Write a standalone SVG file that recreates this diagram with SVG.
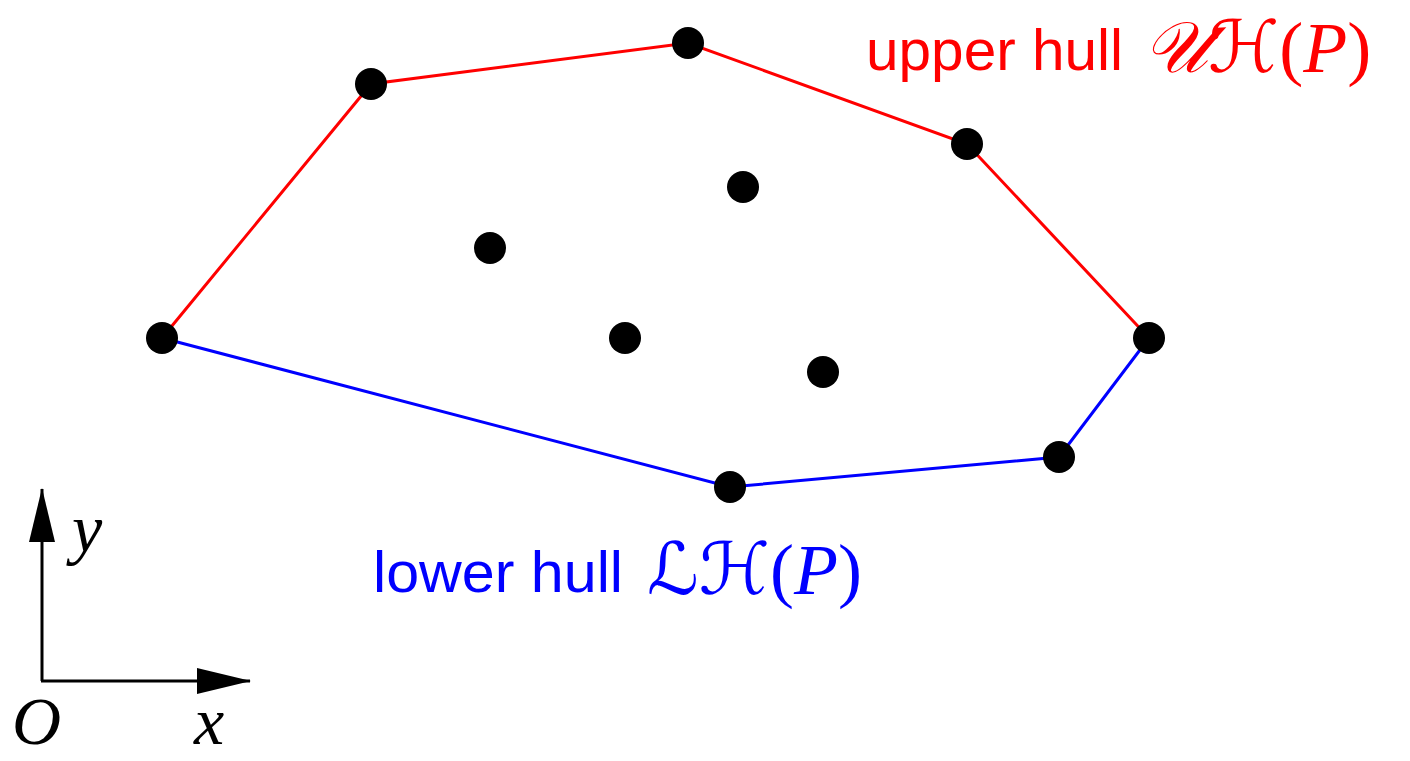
<svg xmlns="http://www.w3.org/2000/svg" width="1410" height="761" viewBox="0 0 1410 761">
<style>
.pt{fill:#000}
.lbl{font-family:"Liberation Sans",Arial,sans-serif;font-size:58px}
.m{font-family:"Liberation Serif","Times New Roman",serif;font-style:italic}
.sc{font-family:"DejaVu Serif","DejaVu Sans","Noto Sans",serif;font-style:italic}
.up{font-family:"Liberation Serif","Times New Roman",serif;font-style:normal}
.math{font-size:72px}
</style>
<defs>
<marker id="ah" markerWidth="54" markerHeight="26" refX="53" refY="13" orient="auto" markerUnits="userSpaceOnUse">
<path d="M0,0 L54,13 L0,26 Z" fill="#000"/>
</marker>
</defs>
<g id="connectors" fill="none" stroke-width="3">
<polyline points="162,338 371,84 688,43 967,144 1149,338" stroke="#ff0000"/>
<polyline points="162,338 730,487 1059,457 1149,338" stroke="#0000ff"/>
<line x1="42" y1="681" x2="42" y2="489" stroke="#000" marker-end="url(#ah)"/>
<line x1="41" y1="681" x2="250" y2="681" stroke="#000" marker-end="url(#ah)"/>
</g>
<g id="p1"><circle class="pt" cx="162" cy="338" r="16"/></g>
<g id="p2"><circle class="pt" cx="371" cy="84" r="16"/></g>
<g id="p3"><circle class="pt" cx="688" cy="43" r="16"/></g>
<g id="p4"><circle class="pt" cx="967" cy="144" r="16"/></g>
<g id="p5"><circle class="pt" cx="1149" cy="338" r="16"/></g>
<g id="p6"><circle class="pt" cx="1059" cy="457" r="16"/></g>
<g id="p7"><circle class="pt" cx="730" cy="487" r="16"/></g>
<g id="p8"><circle class="pt" cx="490" cy="248" r="16"/></g>
<g id="p9"><circle class="pt" cx="743" cy="187" r="16"/></g>
<g id="p10"><circle class="pt" cx="625" cy="338" r="16"/></g>
<g id="p11"><circle class="pt" cx="823" cy="372" r="16"/></g>
<g id="upper-label" fill="#ff0000">
<text class="lbl" x="866" y="70" textLength="257" lengthAdjust="spacingAndGlyphs">upper hull</text>
<text class="math" x="1143" y="72"><tspan class="sc">𝒰ℋ</tspan><tspan class="up">(</tspan><tspan class="m">P</tspan><tspan class="up">)</tspan></text>
</g>
<g id="lower-label" fill="#0000ff">
<text class="lbl" x="373" y="592" textLength="250" lengthAdjust="spacingAndGlyphs">lower hull</text>
<text class="math" x="647" y="594"><tspan class="sc">ℒℋ</tspan><tspan class="up">(</tspan><tspan class="m">P</tspan><tspan class="up">)</tspan></text>
</g>
<g id="axis-labels" fill="#000" font-size="68">
<text class="m" x="72" y="552">y</text>
<text class="m" x="12" y="744">O</text>
<text class="m" x="194" y="744">x</text>
</g>
</svg>
